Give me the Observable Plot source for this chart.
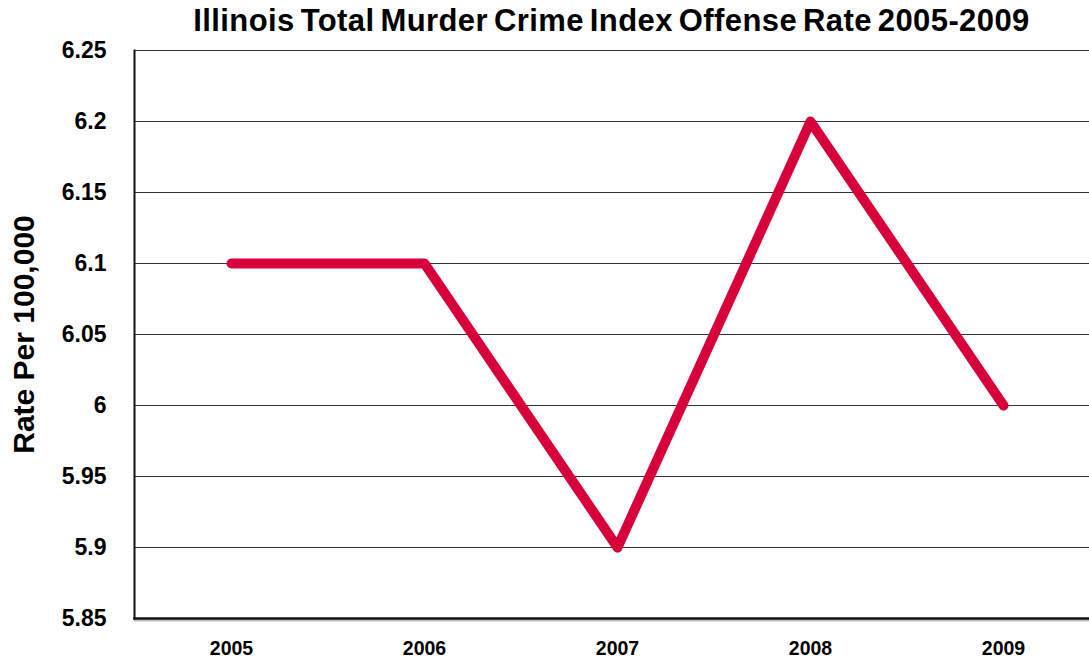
<!DOCTYPE html>
<html>
<head>
<meta charset="utf-8">
<script src="https://cdn.jsdelivr.net/npm/d3@7"></script>
<script src="https://cdn.jsdelivr.net/npm/@observablehq/plot@0.6"></script>
<style>
  html, body { margin: 0; padding: 0; background: #fff; }
  body { width: 1089px; height: 660px; overflow: hidden; font-family: "Liberation Sans", Arial, sans-serif; }
  #title { height: 40px; line-height: 42px; padding-left: 134px; text-align: center; font-size: 31px; font-weight: bold; color: #000; white-space: nowrap; overflow: visible; word-spacing: -3px; letter-spacing: 0.4px; }
</style>
</head>
<body>
<div id="title">Illinois Total Murder Crime Index Offense Rate 2005-2009</div>
<div id="chart"></div>
<script>
const years = ["2005", "2006", "2007", "2008", "2009"];
const rates = [6.1, 6.1, 5.9, 6.2, 6.0];
const yTicks = [5.85, 5.9, 5.95, 6, 6.05, 6.1, 6.15, 6.2, 6.25];
const yLabel = "Rate Per 100,000";

const data = years.map((year, i) => ({year, rate: rates[i]}));

const chart = Plot.plot({
  width: 1089,
  height: 620,
  marginTop: 10,
  marginBottom: 42,
  marginLeft: 134,
  marginRight: 0,
  style: {fontFamily: '"Liberation Sans", Arial, sans-serif', background: "#fff", color: "#000", overflow: "visible"},
  x: {type: "point", domain: years, padding: 0.5, range: [134, 1099]},
  y: {domain: [5.85, 6.25]},
  marks: [
    Plot.ruleY(yTicks.filter(d => d > 5.85), {stroke: "#333", strokeWidth: 1}),
    Plot.ruleY([5.85], {stroke: "#bbb", strokeWidth: 2, dy: 2}),
    Plot.frame({anchor: "bottom", stroke: "#111", strokeWidth: 2.5}),
    Plot.frame({anchor: "left", stroke: "#111", strokeWidth: 2}),
    Plot.axisY({ticks: yTicks, tickSize: 0, tickPadding: 28, fontSize: 23, fontWeight: "bold", label: null, tickFormat: d => String(d)}),
    Plot.axisX({tickSize: 0, tickPadding: 23, fontSize: 19.5, fontWeight: "bold", label: null}),
    Plot.text([yLabel], {frameAnchor: "left", textAnchor: "middle", text: d => d, rotate: -90, dx: -110, fontSize: 30, fontWeight: "bold", fill: "#000"}),
    Plot.line(data, {x: "year", y: "rate", stroke: "#D7003A", strokeWidth: 10, strokeLinecap: "round", strokeLinejoin: "round"})
  ]
});
document.getElementById("chart").appendChild(chart);
</script>
</body>
</html>
